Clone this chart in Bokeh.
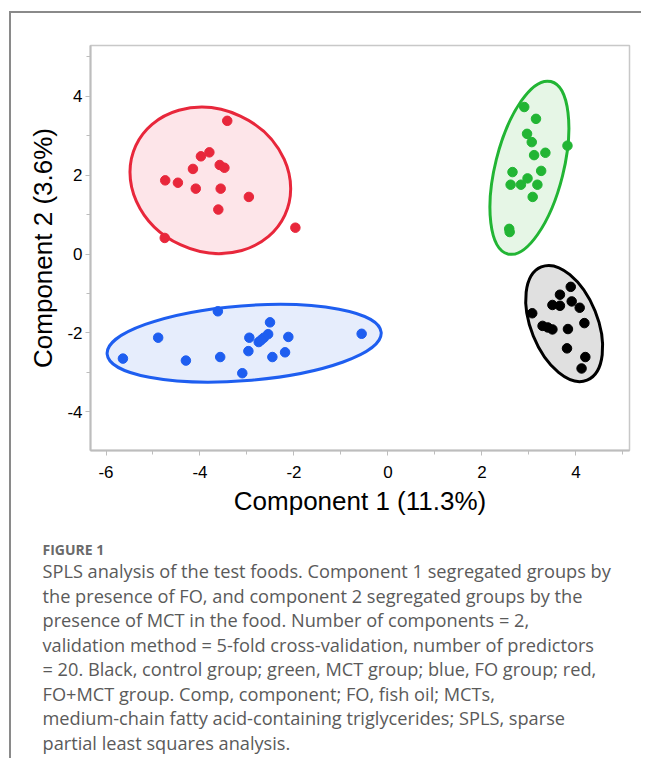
import numpy as np
from bokeh.plotting import figure
from bokeh.layouts import column
from bokeh.models import Title, FixedTicker, Range1d
from bokeh.embed import file_html
from bokeh.resources import INLINE

# ---- SPLS scores (Component 1, Component 2) per group ----
ctrl_x = [3.89, 3.66, 3.50, 3.66, 3.91, 4.08, 3.07, 4.18, 3.29, 3.40, 3.50, 3.83, 3.81, 4.20, 4.12]
ctrl_y = [-0.83, -1.03, -1.29, -1.31, -1.20, -1.36, -1.50, -1.75, -1.82, -1.86, -1.91, -1.90, -2.39, -2.61, -2.90]

mct_x = [2.90, 3.15, 2.96, 3.06, 3.82, 3.35, 3.11, 3.26, 2.65, 2.97, 2.61, 2.83, 3.18, 3.08, 2.58, 2.59]
mct_y = [3.73, 3.43, 3.05, 2.84, 2.75, 2.57, 2.51, 2.11, 2.08, 1.92, 1.76, 1.76, 1.76, 1.45, 0.64, 0.56]

fo_x = [-3.62, -2.51, -4.89, -2.95, -2.55, -2.64, -2.75, -2.70, -2.12, -0.56, -2.97, -2.19, -2.46, -3.57, -4.30, -5.64, -3.10]
fo_y = [-1.45, -1.73, -2.12, -2.12, -2.03, -2.12, -2.23, -2.18, -2.10, -2.02, -2.46, -2.49, -2.61, -2.61, -2.70, -2.65, -3.02]

fomct_x = [-3.42, -3.80, -3.98, -4.15, -3.58, -3.48, -4.74, -4.47, -4.09, -3.56, -2.96, -3.61, -1.97, -4.75]
fomct_y = [3.38, 2.58, 2.48, 2.16, 2.26, 2.19, 1.87, 1.81, 1.66, 1.66, 1.45, 1.13, 0.67, 0.41]

# ---- group density ellipses: centre, width, height, angle (deg) ----
ell_cx = [3.75, 3.01, -3.06, -3.78]
ell_cy = [-1.76, 2.19, -2.26, 1.87]
ell_w = [2.60, 3.78, 5.85, 3.50]
ell_h = [1.69, 1.73, 1.90, 3.60]
ell_angle = [-68.0, 76.0, 4.5, -25.0]

group_line = ["#000000", "#22b534", "#1e5ef0", "#e8273b"]
group_fill = ["#e0e0e0", "#e6f6e6", "#e6edfc", "#fde5e9"]

x_ticks = [-6, -4, -2, 0, 2, 4]
x_minor = [-5, -3, -1, 1, 3, 5]
y_ticks = [-4, -2, 0, 2, 4]
y_minor = [-3, -1, 1, 3, 5]

x_label = "Component 1 (11.3%)"
y_label = "Component 2 (3.6%)"

caption_head = "FIGURE 1"
caption_lines = [
    "SPLS analysis of the test foods. Component 1 segregated groups by",
    "the presence of FO, and component 2 segregated groups by the",
    "presence of MCT in the food. Number of components = 2,",
    "validation method = 5-fold cross-validation, number of predictors",
    "= 20. Black, control group; green, MCT group; blue, FO group; red,",
    "FO+MCT group. Comp, component; FO, fish oil; MCTs,",
    "medium-chain fatty acid-containing triglycerides; SPLS, sparse",
    "partial least squares analysis.",
]

W, H = 630, 745
FL, FT, FR, FB = 79, 32, 618, 437  # frame edges in canvas px

p = figure(width=W, height=H, output_backend="svg", toolbar_location=None,
           x_range=Range1d(-6.33, 5.14), y_range=Range1d(-4.98, 5.29),
           min_border_left=FL, min_border_right=W - FR,
           min_border_top=FT, min_border_bottom=H - FB)
p.xgrid.visible = False
p.ygrid.visible = False
p.outline_line_color = "#c8c8c8"
p.outline_line_width = 1.5
p.background_fill_color = "white"
p.border_fill_color = "white"

p.ellipse(x=ell_cx, y=ell_cy, width=ell_w, height=ell_h,
          angle=np.deg2rad(ell_angle), fill_color=group_fill,
          line_color=group_line, line_width=3)

for xs, ys, c in [(ctrl_x, ctrl_y, group_line[0]), (mct_x, mct_y, group_line[1]),
                  (fo_x, fo_y, group_line[2]), (fomct_x, fomct_y, group_line[3])]:
    p.scatter(xs, ys, size=9.5, color=c)

for ax, ticks, minor in [(p.xaxis[0], x_ticks, x_minor), (p.yaxis[0], y_ticks, y_minor)]:
    ax.ticker = FixedTicker(ticks=ticks, minor_ticks=minor)
    ax.major_label_overrides = {t: str(t) for t in ticks}
    ax.axis_line_color = "#bdbdbd"
    ax.axis_line_width = 2
    ax.major_tick_line_color = "#bdbdbd"
    ax.minor_tick_line_color = "#bdbdbd"
    ax.major_tick_out = 5
    ax.major_tick_in = 0
    ax.minor_tick_out = 4
    ax.minor_tick_in = 0
    ax.major_label_text_font = "Liberation Sans"
    ax.major_label_text_font_size = "17px"
    ax.major_label_text_color = "#000000"
    ax.axis_label_text_font = "Liberation Sans"
    ax.axis_label_text_font_size = "26px"
    ax.axis_label_text_font_style = "normal"
    ax.axis_label_text_color = "#000000"

p.xaxis.axis_label = x_label
p.yaxis.axis_label = y_label
p.xaxis.major_label_standoff = 10
p.xaxis.axis_label_standoff = 5
p.yaxis.major_label_standoff = 3
p.yaxis.axis_label_standoff = 6

# caption as titles below the x axis
p.add_layout(Title(text=caption_head, align="left", offset=-48,
                   text_font="Open Sans", text_font_size="14px",
                   text_font_style="bold", text_color="#6a6a6a",
                   standoff=38), "below")
p.add_layout(Title(text="\n".join(caption_lines), align="left", offset=-48,
                   text_font="Open Sans", text_font_size="18.2px",
                   text_font_style="normal", text_color="#5a5a5a",
                   text_line_height=1.0216, standoff=-40.6), "below")

layout = column(p, margin=(11, 0, 0, 9),
                styles={"border-left": "2px solid #8a8a8a",
                        "border-top": "2px solid #8a8a8a"})

open("out.html", "w").write(file_html(layout, INLINE))
